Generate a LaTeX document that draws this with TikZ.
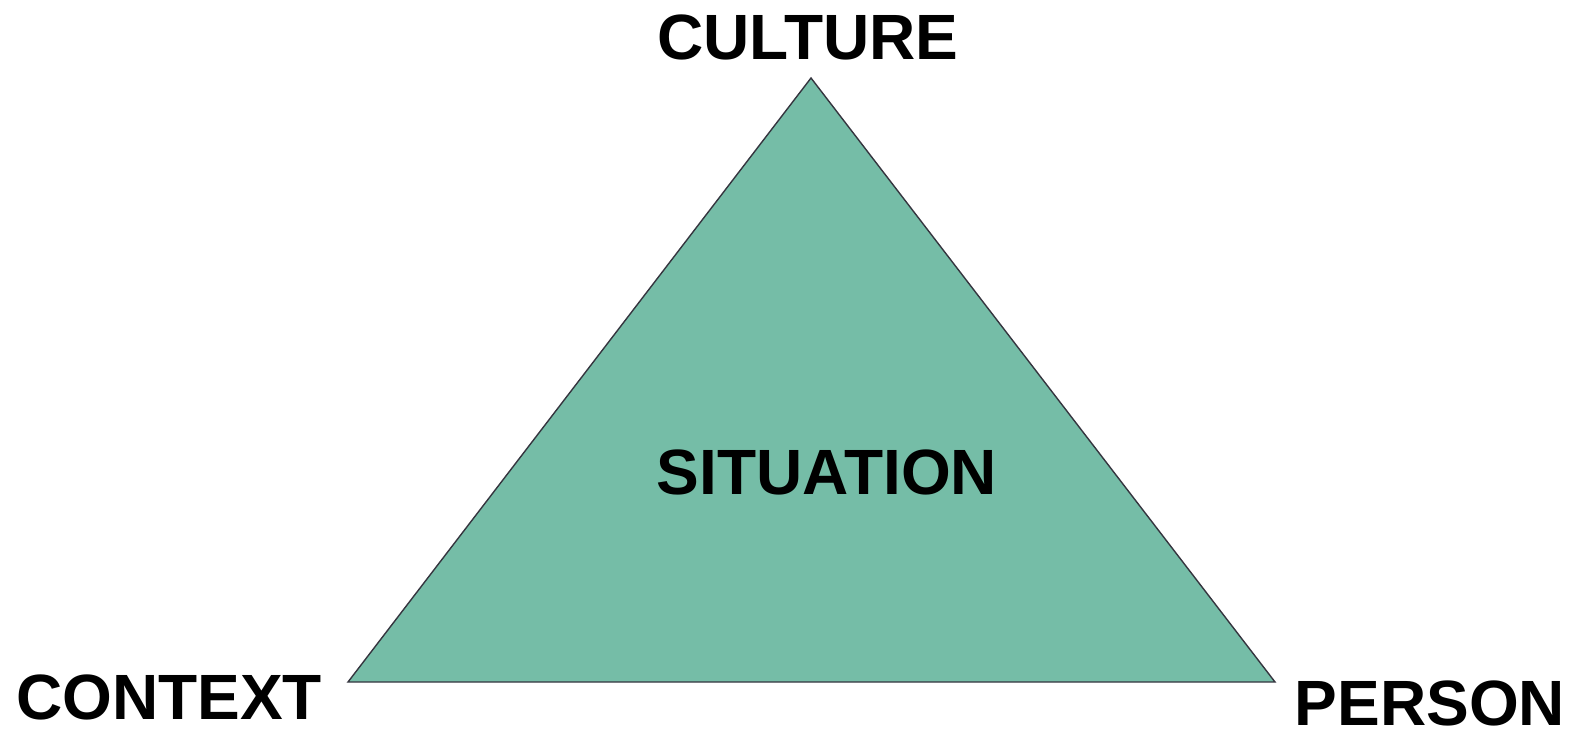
\documentclass[tikz,border=0pt]{standalone}
\usepackage{fontspec}
\setmainfont{Liberation Sans}
\usepackage{tikz}
\usetikzlibrary{positioning}
\usepackage{xcolor}
\definecolor{trifill}{HTML}{75BDA7}
\definecolor{triedge}{HTML}{35353F}

\begin{document}
\begin{tikzpicture}[
    x = 1pt,
    y = -1pt,
    label/.style={anchor=base, inner sep=0pt, font=\fontsize{64}{70}\selectfont\bfseries},
    side/.style={draw=triedge, line width=1.4pt, line join=miter, fill=trifill}
]
\useasboundingbox (0,0) rectangle (1570,730);

% Corners
\coordinate (top) at (811,78);
\coordinate (left) at (348,682);
\coordinate (right) at (1275,682);

% Triangle
\filldraw[side] (top) -- (left) -- (right) -- cycle;

% Labels
\node[label] (culture) at (808,59.5) {CULTURE};
\node[label] (context) at (169,719) {CONTEXT};
\node[label] (person) at (1430,725) {PERSON};
\node[label] (situation) at (827,494) {SITUATION};

\end{tikzpicture}
\end{document}
